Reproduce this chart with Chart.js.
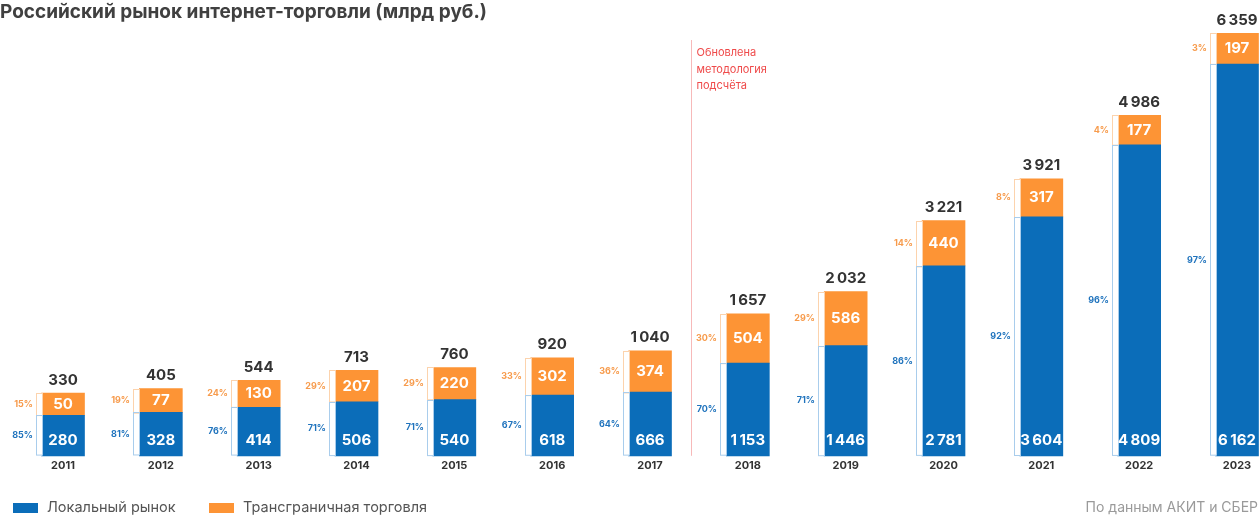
<!DOCTYPE html>
<html>
<head>
<meta charset="utf-8">
<script src="https://cdn.jsdelivr.net/npm/chart.js@4.4.0/dist/chart.umd.min.js"></script>
<style>
  html, body { margin: 0; padding: 0; background: #fff; }
  canvas { display: block; }
</style>
</head>
<body>
<canvas id="ecomChart" width="1260" height="515"></canvas>
<script>
const years = ['2011', '2012', '2013', '2014', '2015', '2016', '2017', '2018', '2019', '2020', '2021', '2022', '2023'];
const localMarket = [280, 328, 414, 506, 540, 618, 666, 1153, 1446, 2781, 3604, 4809, 6162];
const crossBorder = [50, 77, 130, 207, 220, 302, 374, 504, 586, 440, 317, 177, 197];
const totals = [330, 405, 544, 713, 760, 920, 1040, 1657, 2032, 3221, 3921, 4986, 6359];
const localShare = [85, 81, 76, 71, 71, 67, 64, 70, 71, 86, 92, 96, 97];
const crossShare = [15, 19, 24, 29, 29, 33, 36, 30, 29, 14, 8, 4, 3];

// the source draws each segment with a fixed minimum height on top of its value
const localPad = 400;
const crossPad = 320;

const BLUE = '#0b6db9';
const ORANGE = '#fd9435';
const FONT = 'Inter, "Noto Sans", sans-serif';

function fmt(n) {
    return String(n).replace(/\B(?=(\d{3})+(?!\d))/g, '\u2009');
}

const labelsPlugin = {
    id: 'labels',
    afterDatasetsDraw(chart) {
        const ctx = chart.ctx;
        const local = chart.getDatasetMeta(0).data;
        const cross = chart.getDatasetMeta(1).data;
        const xs = chart.scales.x;
        ctx.save();

        // methodology change marker
        const lx = Math.round((xs.getPixelForValue(6) + xs.getPixelForValue(7)) / 2 - 8) + 0.5;
        ctx.strokeStyle = '#f7b9b9';
        ctx.lineWidth = 1;
        ctx.beginPath();
        ctx.moveTo(lx, 40);
        ctx.lineTo(lx, chart.chartArea.bottom);
        ctx.stroke();
        ctx.fillStyle = '#ef4a4a';
        ctx.font = '11px ' + FONT;
        ctx.textAlign = 'left';
        ctx.textBaseline = 'middle';
        ['Обновлена', 'методология', 'подсчёта'].forEach((t, k) => ctx.fillText(t, lx + 5, 53 + k * 16.5));

        for (let i = 0; i < years.length; i++) {
            const b = local[i];
            const o = cross[i];
            const left = b.x - b.width / 2;
            const sx = Math.round(left) - 6;

            // thin bracket strip to the left of each bar
            ctx.fillStyle = '#fff';
            ctx.lineWidth = 1;
            ctx.fillRect(sx, o.y, 6, b.base - o.y);
            ctx.strokeStyle = '#fcd3ad';
            ctx.strokeRect(sx + 0.5, Math.round(o.y) + 0.5, 6, o.base - o.y);
            ctx.strokeStyle = '#a9cdec';
            ctx.strokeRect(sx + 0.5, Math.round(b.y) + 0.5, 6, b.base - b.y - 1);

            ctx.textAlign = 'center';
            ctx.textBaseline = 'middle';
            ctx.fillStyle = '#fff';
            ctx.font = 'bold 15px ' + FONT;
            ctx.fillText(fmt(localMarket[i]), b.x, b.base - 15);
            ctx.fillText(fmt(crossBorder[i]), o.x, (o.y + o.base) / 2);

            ctx.fillStyle = '#333';
            ctx.fillText(fmt(totals[i]), o.x, o.y - 13);

            ctx.textAlign = 'right';
            ctx.font = 'bold 9px ' + FONT;
            ctx.fillStyle = '#1f73bd';
            ctx.fillText(localShare[i] + '%', sx - 3, (b.y + b.base) / 2);
            ctx.fillStyle = '#f79b4c';
            ctx.fillText(crossShare[i] + '%', sx - 3, (o.y + o.base) / 2);
        }

        // title
        ctx.textAlign = 'left';
        ctx.fillStyle = '#404040';
        ctx.font = 'bold 19px ' + FONT;
        ctx.fillText('Российский рынок интернет-торговли (млрд руб.)', 0, 12);

        // legend
        ctx.font = '14.5px ' + FONT;
        ctx.fillStyle = BLUE;
        ctx.fillRect(13, 503, 25, 10);
        ctx.fillStyle = '#555';
        ctx.fillText('Локальный рынок', 47, 508);
        ctx.fillStyle = ORANGE;
        ctx.fillRect(209, 503, 25, 10);
        ctx.fillStyle = '#555';
        ctx.fillText('Трансграничная торговля', 243, 508);

        ctx.textAlign = 'right';
        ctx.font = '14px ' + FONT;
        ctx.fillStyle = '#9a9a9a';
        ctx.fillText('По данным АКИТ и СБЕР', 1258, 508);
        ctx.restore();
    }
};

new Chart(document.getElementById('ecomChart').getContext('2d'), {
    type: 'bar',
    data: {
        labels: years,
        datasets: [
            {
                label: 'Локальный рынок',
                data: localMarket.map(v => v + localPad),
                backgroundColor: BLUE,
                barThickness: 43,
                clip: false
            },
            {
                label: 'Трансграничная торговля',
                data: crossBorder.map(v => v + crossPad),
                backgroundColor: ORANGE,
                barThickness: 43,
                clip: false
            }
        ]
    },
    options: {
        responsive: false,
        animation: false,
        devicePixelRatio: 1,
        layout: { padding: { left: 63, right: 23, top: 32, bottom: 40 } },
        plugins: {
            legend: { display: false },
            tooltip: { enabled: false }
        },
        scales: {
            x: {
                stacked: true,
                offset: false,
                grid: { display: false, drawTicks: false },
                border: { display: false },
                ticks: {
                    color: '#333',
                    font: { family: FONT, size: 11, weight: 'bold' },
                    padding: 3,
                    maxRotation: 0,
                    autoSkip: false
                }
            },
            y: {
                stacked: true,
                display: false,
                min: 0,
                max: 7100
            }
        }
    },
    plugins: [labelsPlugin]
});
</script>
</body>
</html>
